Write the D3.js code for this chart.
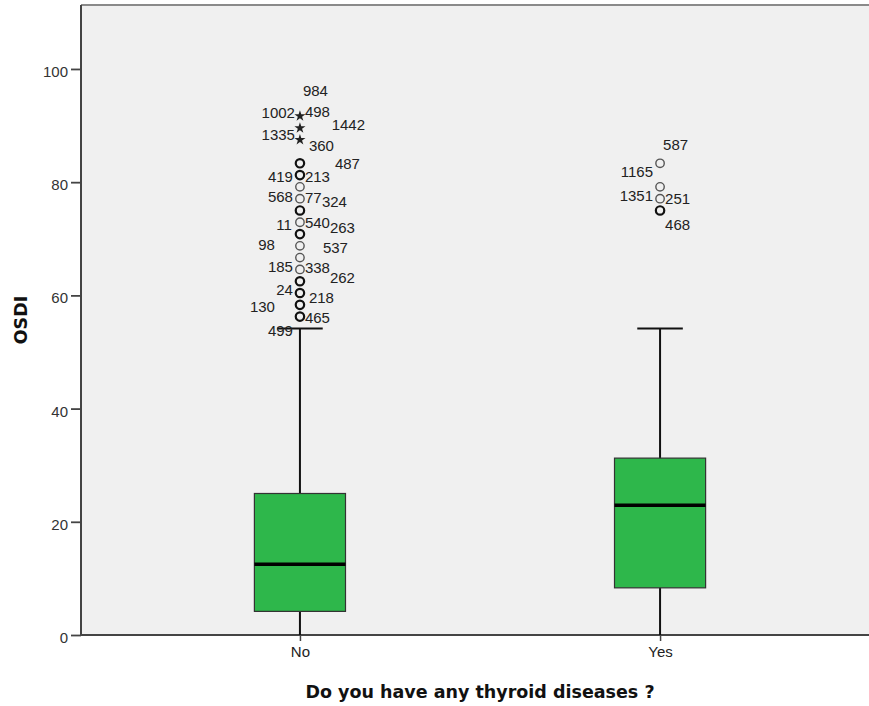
<!DOCTYPE html>
<html>
<head>
<meta charset="utf-8">
<script src="https://cdn.jsdelivr.net/npm/d3@7"></script>
<style>
  html, body { margin: 0; padding: 0; background: #ffffff; }
  svg { display: block; }
</style>
</head>
<body>
<svg id="chart" width="869" height="706"></svg>
<script>
// ---------------- DATA ----------------
const categories = ["No", "Yes"];
const yTicks = [0, 20, 40, 60, 80, 100];

// box statistics per category
const whiskerLow  = [0, 0];
const q1          = [4.17, 8.33];
const median      = [12.5, 22.92];
const q3          = [25.0, 31.25];
const whiskerHigh = [54.17, 54.17];

// outliers (circles) : value and number of cases at that value
const outlierNoValues  = [83.33, 81.25, 79.17, 77.08, 75.0, 72.92, 70.83, 68.75, 66.67, 64.58, 62.5, 60.42, 58.33, 56.25];
const outlierNoCounts  = [2, 2, 1, 1, 2, 1, 2, 1, 1, 1, 2, 2, 2, 2];
const outlierYesValues = [83.33, 79.17, 77.08, 75.0];
const outlierYesCounts = [1, 1, 1, 2];

// extremes (stars)
const extremeNoValues  = [91.67, 89.58, 87.5];
const extremeYesValues = [];

// case labels: id, category, value of the point it belongs to
const caseLabels = [
  ["984", "No", 91.67], ["1002", "No", 91.67], ["498", "No", 91.67],
  ["1442", "No", 89.58], ["1335", "No", 89.58], ["360", "No", 87.5],
  ["487", "No", 83.33], ["419", "No", 81.25], ["213", "No", 81.25],
  ["568", "No", 77.08], ["77", "No", 77.08], ["324", "No", 77.08],
  ["11", "No", 72.92], ["540", "No", 72.92], ["263", "No", 72.92],
  ["98", "No", 68.75], ["537", "No", 68.75], ["185", "No", 64.58],
  ["338", "No", 64.58], ["262", "No", 64.58], ["24", "No", 60.42],
  ["218", "No", 58.33], ["130", "No", 58.33], ["465", "No", 56.25],
  ["499", "No", 56.25],
  ["587", "Yes", 83.33], ["1165", "Yes", 83.33], ["1351", "Yes", 77.08],
  ["251", "Yes", 77.08], ["468", "Yes", 75.0]
];

// ---------------- LAYOUT (label placement relative to its point, px) ----------------
const labelLayout = {
  "No:984": [3, -26, "start"], "No:1002": [-5, -3.5, "end"], "No:498": [5, -4.4, "start"],
  "No:1442": [31.7, -3.5, "start"], "No:1335": [-5, 6.5, "end"], "No:360": [9, 6.2, "start"],
  "No:487": [35, 0.7, "start"], "No:419": [-7, 1.9, "end"], "No:213": [5, 1.9, "start"],
  "No:568": [-7, -1.7, "end"], "No:77": [5, -0.7, "start"], "No:324": [22, 3, "start"],
  "No:11": [-8, 2.7, "end"], "No:540": [5, 0.7, "start"], "No:263": [30, 5.7, "start"],
  "No:98": [-25, -1.4, "end"], "No:537": [23, 2.1, "start"], "No:185": [-7, -2.5, "end"],
  "No:338": [5, -2, "start"], "No:262": [30, 8.5, "start"], "No:24": [-7, -3, "end"],
  "No:218": [9, -6.8, "start"], "No:130": [-25, 2.2, "end"], "No:465": [5, 1.4, "start"],
  "No:499": [-7, 14.4, "end"],
  "Yes:587": [3, -18.3, "start"], "Yes:1165": [-7, 8.7, "end"], "Yes:1351": [-7, -2.7, "end"],
  "Yes:251": [5, 0.3, "start"], "Yes:468": [5, 14.5, "start"]
};

// ---------------- CHART ----------------
const svg = d3.select("#chart");
const plot = { left: 81, right: 879, top: 5, bottom: 635 };

const x = d3.scalePoint().domain(categories).range([plot.left, plot.right]).padding(0.608);
const y = d3.scaleLinear().domain([0, 111.3]).range([plot.bottom, plot.top]);

const boxW = x.step() * 0.253;
const capW = boxW / 2;

// background
svg.append("rect")
  .attr("x", plot.left).attr("y", plot.top)
  .attr("width", 869 - plot.left).attr("height", plot.bottom - plot.top)
  .attr("fill", "#f0f0f0");

// top border
svg.append("line")
  .attr("x1", plot.left).attr("x2", 869)
  .attr("y1", plot.top).attr("y2", plot.top)
  .attr("stroke", "#8a8a8a").attr("stroke-width", 2);

// y axis
const yAxis = svg.append("g")
  .attr("transform", `translate(${plot.left},0)`)
  .call(d3.axisLeft(y).tickValues(yTicks).tickSize(10).tickPadding(3).tickSizeOuter(0));
yAxis.select(".domain").attr("stroke", "#444").attr("stroke-width", 2)
  .attr("d", `M0,${plot.top}V${plot.bottom}`);
yAxis.selectAll(".tick line").attr("stroke", "#444").attr("stroke-width", 1.8);
yAxis.selectAll(".tick text")
  .attr("font-family", "'Liberation Sans', Arial, sans-serif")
  .attr("font-size", 15).attr("fill", "#333").attr("dy", "0.5em");

// x axis
const xAxis = svg.append("g")
  .attr("transform", `translate(0,${plot.bottom})`)
  .call(d3.axisBottom(x).tickSize(6).tickPadding(5).tickSizeOuter(0));
xAxis.select(".domain").attr("stroke", "#444").attr("stroke-width", 2)
  .attr("d", `M${plot.left},0H869`);
xAxis.selectAll(".tick line").attr("stroke", "#444").attr("stroke-width", 1.5);
xAxis.selectAll(".tick text")
  .attr("font-family", "'Liberation Sans', Arial, sans-serif")
  .attr("font-size", 15).attr("fill", "#222");

// boxes
const boxes = categories.map((c, i) => ({
  c, lo: whiskerLow[i], q1: q1[i], med: median[i], q3: q3[i], hi: whiskerHigh[i]
}));
const g = svg.append("g");

// whiskers
g.selectAll(".whisker").data(boxes).join("line")
  .attr("x1", d => x(d.c)).attr("x2", d => x(d.c))
  .attr("y1", d => y(d.hi)).attr("y2", d => y(d.lo))
  .attr("stroke", "#111").attr("stroke-width", 2);
g.selectAll(".cap").data(boxes).join("line")
  .attr("x1", d => x(d.c) - capW / 2).attr("x2", d => x(d.c) + capW / 2)
  .attr("y1", d => y(d.hi)).attr("y2", d => y(d.hi))
  .attr("stroke", "#111").attr("stroke-width", 2);
// box
g.selectAll(".box").data(boxes).join("rect")
  .attr("x", d => x(d.c) - boxW / 2).attr("width", boxW)
  .attr("y", d => y(d.q3)).attr("height", d => y(d.q1) - y(d.q3))
  .attr("fill", "#2eb74b").attr("stroke", "#333").attr("stroke-width", 1.2);
// median
g.selectAll(".median").data(boxes).join("line")
  .attr("x1", d => x(d.c) - boxW / 2).attr("x2", d => x(d.c) + boxW / 2)
  .attr("y1", d => y(d.med)).attr("y2", d => y(d.med))
  .attr("stroke", "#000").attr("stroke-width", 3.5);

// outliers
const outliers = [];
outlierNoValues.forEach((v, i) => outliers.push({ c: "No", v, n: outlierNoCounts[i] }));
outlierYesValues.forEach((v, i) => outliers.push({ c: "Yes", v, n: outlierYesCounts[i] }));
g.selectAll(".outlier").data(outliers).join("circle")
  .attr("cx", d => x(d.c)).attr("cy", d => y(d.v)).attr("r", 4.2)
  .attr("fill", "none")
  .attr("stroke", d => d.n > 1 ? "#111" : "#555")
  .attr("stroke-width", d => d.n > 1 ? 2.2 : 1.4);

// extremes
const extremes = [];
extremeNoValues.forEach(v => extremes.push({ c: "No", v }));
extremeYesValues.forEach(v => extremes.push({ c: "Yes", v }));
const star = d3.symbol().type(d3.symbolStar).size(38);
g.selectAll(".extreme").data(extremes).join("path")
  .attr("transform", d => `translate(${x(d.c)},${y(d.v)})`)
  .attr("d", star).attr("fill", "#222");

// case labels
g.selectAll(".caselabel").data(caseLabels).join("text")
  .each(function (d) {
    const lay = labelLayout[d[1] + ":" + d[0]];
    d3.select(this)
      .attr("x", x(d[1]) + lay[0])
      .attr("y", y(d[2]) + lay[1])
      .attr("dy", "0.36em")
      .attr("text-anchor", lay[2]);
  })
  .attr("font-family", "'Liberation Sans', Arial, sans-serif")
  .attr("font-size", 15).attr("fill", "#222")
  .text(d => d[0]);

// axis titles
svg.append("text")
  .attr("x", (plot.left + plot.right) / 2).attr("y", 697.5)
  .attr("text-anchor", "middle")
  .attr("font-family", "'DejaVu Sans', Verdana, sans-serif")
  .attr("font-weight", "bold").attr("font-size", 17.5).attr("fill", "#111")
  .text("Do you have any thyroid diseases ?");
svg.append("text")
  .attr("transform", `translate(27,${(plot.top + plot.bottom) / 2}) rotate(-90)`)
  .attr("text-anchor", "middle")
  .attr("font-family", "'DejaVu Sans', Verdana, sans-serif")
  .attr("font-weight", "bold").attr("font-size", 17.5).attr("fill", "#111")
  .text("OSDI");
</script>
</body>
</html>
